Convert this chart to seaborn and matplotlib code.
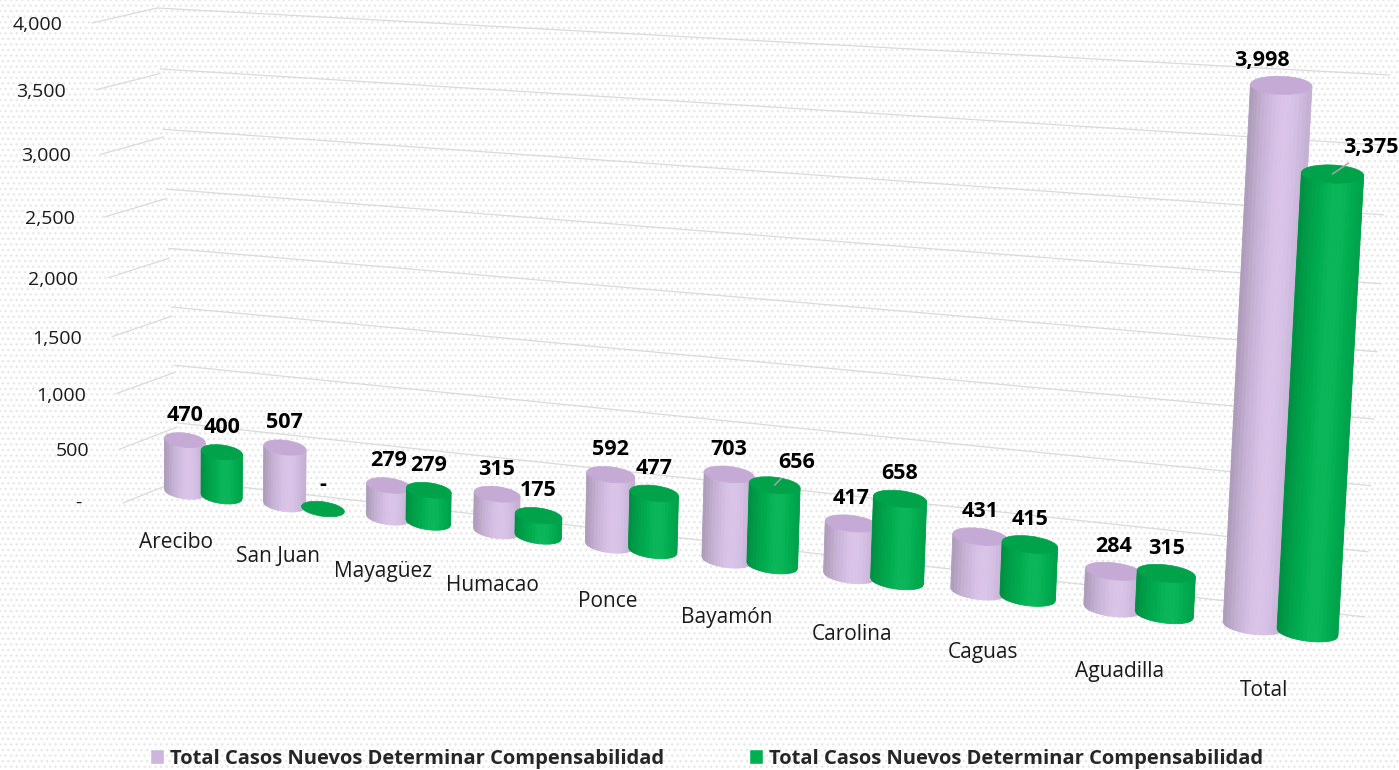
import numpy as np
import pandas as pd
import matplotlib
matplotlib.use("Agg")
import matplotlib.pyplot as plt
import matplotlib.colors as mcolors
import matplotlib.transforms as mtransforms
from matplotlib import font_manager as fm
from matplotlib.patches import Polygon, Ellipse, Rectangle
import seaborn as sns

# ---- data ----
regions = ["Arecibo", "San Juan", "Mayagüez", "Humacao", "Ponce",
           "Bayamón", "Carolina", "Caguas", "Aguadilla", "Total"]
casos_a = [470, 507, 279, 315, 592, 703, 417, 431, 284, 3998]
casos_b = [400, 0, 279, 175, 477, 656, 658, 415, 315, 3375]
serie_label = "Total Casos Nuevos Determinar Compensabilidad"
y_ticks = [0, 500, 1000, 1500, 2000, 2500, 3000, 3500, 4000]

PURPLE = "#D8C2E8"
PURPLE_CAP = "#C4AAD4"
GREEN = "#00B352"
GREEN_CAP = "#00A34A"
LEG_PURPLE = "#CDB5DD"
LEG_GREEN = "#00B050"
GRID = "#DADADA"

W_PX, H_PX = 1399, 770
CAP = 130          # cylinder cap height, in value units

sns.set_theme(style="white")


def family_with_bold(cands):
    for fam in cands:
        try:
            path = fm.findfont(fm.FontProperties(family=fam, weight="bold"),
                               fallback_to_default=False)
        except Exception:
            continue
        if "bold" in path.lower():
            return fam
    return "DejaVu Sans"


FAMILY = family_with_bold(["Noto Sans", "Open Sans", "Lato", "Roboto", "Liberation Sans"])
plt.rcParams["font.family"] = [FAMILY, "DejaVu Sans"]


def homography(src, dst):
    rows = []
    for (x, y), (u, v) in zip(src, dst):
        rows.append([x, y, 1, 0, 0, 0, -u * x, -u * y, -u])
        rows.append([0, 0, 0, x, y, 1, -v * x, -v * y, -v])
    _, _, vt = np.linalg.svd(np.array(rows, float))
    return vt[-1].reshape(3, 3)


class Perspective(mtransforms.Transform):
    """data -> display pixels through a 4-point homography (fakes the 3D view)"""
    input_dims = 2
    output_dims = 2
    is_separable = False
    has_inverse = False

    def __init__(self, src, dst_px):
        super().__init__()
        self.m = homography(src, [(x, H_PX - y) for x, y in dst_px])

    def transform_non_affine(self, values):
        v = np.asarray(values, float).reshape(-1, 2)
        p = np.column_stack([v, np.ones(len(v))]) @ self.m.T
        return p[:, :2] / p[:, 2:3]


# planes of the fake 3D box
bar_tr = Perspective([(0, 0), (0, 4000), (9, 0), (9, 4000)],
                     [(203, 494), (205, 46), (1280, 629), (1309, 86)])
wall_tr = Perspective([(0, 0), (0, 4000), (1, 0), (1, 4000)],
                      [(180, 480), (157, 8), (1365, 617), (1390, 75)])
side_tr = Perspective([(0, 0), (0, 4000), (1, 0), (1, 4000)],
                      [(123, 503), (92, 23), (180, 480), (157, 8)])


def shades(base, n=16):
    # darker on the left edge, brightest a bit right of centre
    rgb = np.array(mcolors.to_rgb(base))
    out = []
    for i in range(n):
        t = (i + 0.5) / n
        k = np.cos(np.pi * (t - 0.6) / 1.3)
        dark = (1 - k) * 0.24
        light = max(0.0, k - 0.85) * 0.3
        c = rgb * (1 - dark)
        c = c + (1 - c) * light
        out.append(tuple(np.clip(c, 0, 1)))
    return out


def draw_cylinder(ax, patch, base, cap_color, z):
    x0, w, h = patch.get_x(), patch.get_width(), patch.get_height()
    xc = x0 + w / 2
    cols = shades(base)
    edges = np.linspace(x0, x0 + w, len(cols) + 1)
    if h > 0:
        for i, col in enumerate(cols):
            xs = np.linspace(edges[i], edges[i + 1], 4)
            yb = -CAP / 2 * np.sqrt(np.clip(1 - ((xs - xc) / (w / 2)) ** 2, 0, 1))
            verts = list(zip(xs, yb)) + [(edges[i + 1], h), (edges[i], h)]
            ax.add_patch(Polygon(verts, closed=True, fc=col, ec=col, lw=0.6,
                                 transform=bar_tr, zorder=z, clip_on=False))
    ax.add_patch(Ellipse((xc, h), w, CAP, fc=cap_color, ec=cap_color, lw=0.5,
                         transform=bar_tr, zorder=z + 0.001, clip_on=False))


df = pd.DataFrame({
    "region": regions * 2,
    "casos": casos_a + casos_b,
    "serie": ["a"] * len(regions) + ["b"] * len(regions),
})

fig = plt.figure(figsize=(W_PX / 100, H_PX / 100), dpi=100)
ax = fig.add_axes([0, 0, 1, 1])

sns.barplot(data=df, x="region", y="casos", hue="serie", order=regions,
            hue_order=["a", "b"], palette=[PURPLE, GREEN], width=0.75,
            saturation=1, errorbar=None, legend=False, ax=ax)

# dotted background
ax.add_patch(Rectangle((0, 0), 1, 1, transform=ax.transAxes, fc="white",
                       ec="#E8E8E8", hatch="...", lw=0, zorder=0))

# grid lines: side wall + back wall, tick labels next to the side wall
for v in y_ticks:
    ax.plot([0, 1], [v, v], color=GRID, lw=0.9, transform=side_tr, zorder=1, clip_on=False)
    ax.plot([0, 1], [v, v], color=GRID, lw=0.9, transform=wall_tr, zorder=1, clip_on=False)
    if v == 0:
        ax.annotate("-", xy=(0, v), xycoords=side_tr, xytext=(-45, 0),
                    textcoords="offset pixels", ha="center", va="center",
                    fontsize=14, color="#1a1a1a")
    else:
        ax.annotate(f"{v:,}", xy=(0, v), xycoords=side_tr, xytext=(-30, -2),
                    textcoords="offset pixels", ha="right", va="center",
                    fontsize=14, color="#1a1a1a")

# cylinders, built from the seaborn bars
label_shift = {("Bayamón", 1): (16, 16), ("Total", 0): (-14, 18), ("Total", 1): (28, 19)}
leader = {("Bayamón", 1), ("Total", 1)}
for p in list(ax.patches):
    if not isinstance(p, Rectangle) or p.get_zorder() == 0:
        continue
    xc = p.get_x() + p.get_width() / 2
    cat = int(round(xc))
    if abs(xc - cat) > 0.45:
        continue
    hue = 0 if xc < cat else 1
    # widen a little, bars overlap slightly in the original
    p.set_x(p.get_x() - 0.02)
    p.set_width(p.get_width() + 0.04)
    p.set_transform(bar_tr)
    p.set_clip_on(False)
    p.set_linewidth(0)
    z = 3 + cat * 0.01 + hue * 0.005
    p.set_zorder(z - 0.002)
    if p.get_height() == 0:
        p.set_visible(False)
    draw_cylinder(ax, p, [PURPLE, GREEN][hue], [PURPLE_CAP, GREEN_CAP][hue], z)

    val = p.get_height()
    key = (regions[cat], hue)
    dx, dy = label_shift.get(key, (0, 18))
    arrow = dict(arrowstyle="-", color="#A6A6A6", lw=1.1, shrinkA=2, shrinkB=0) if key in leader else None
    ax.annotate("-" if val == 0 else f"{val:,.0f}", xy=(xc, val), xycoords=bar_tr,
                xytext=(dx, dy), textcoords="offset points", ha="center", va="center",
                fontsize=15.5, fontweight="bold", color="black", zorder=10,
                arrowprops=arrow, annotation_clip=False)

# category names on the floor
for i, name in enumerate(regions):
    ax.text(i - 0.27 + 0.02 * i, -480, name, transform=bar_tr, ha="center",
            va="center", fontsize=15, color="#1a1a1a", zorder=10)

ax.set_xlim(-0.5, 9.5)
ax.set_ylim(0, 4000)
ax.set_axis_off()

handles = [Rectangle((0, 0), 1, 1, fc=LEG_PURPLE), Rectangle((0, 0), 1, 1, fc=LEG_GREEN)]
fig.legend(handles, [serie_label, serie_label], loc="lower center", ncol=2,
           bbox_to_anchor=(0.505, -0.022), frameon=False, handlelength=0.7,
           handleheight=0.75, handletextpad=0.3, columnspacing=4.2,
           prop={"size": 14.5, "weight": "bold"})

fig.savefig("out.png", dpi=100)
